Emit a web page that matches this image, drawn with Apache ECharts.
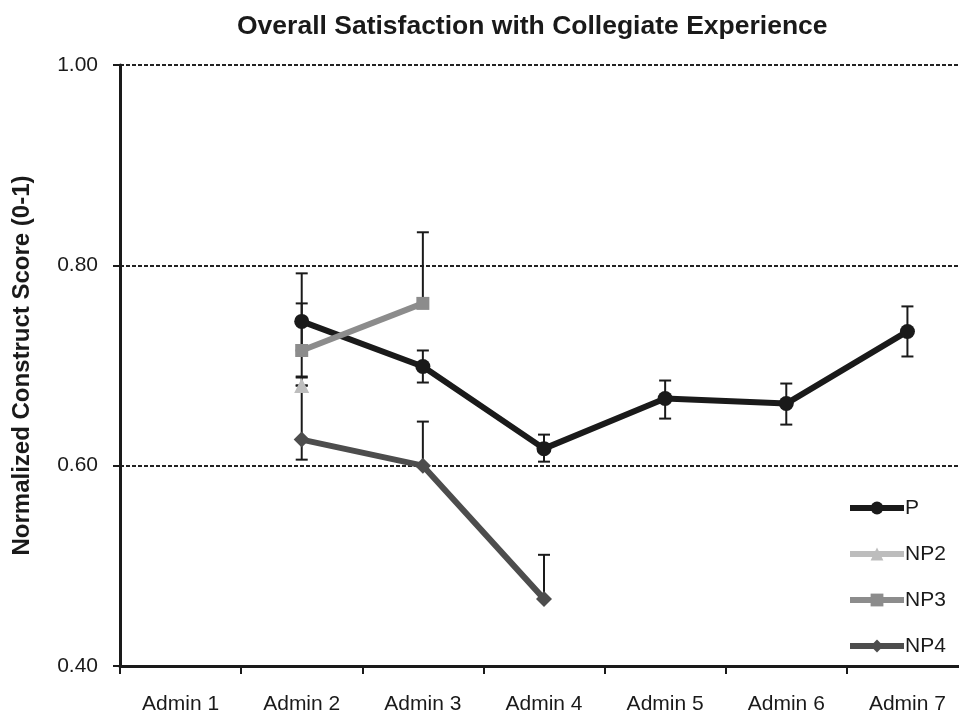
<!DOCTYPE html>
<html>
<head>
<meta charset="utf-8">
<script src="https://cdn.jsdelivr.net/npm/echarts@6/dist/echarts.min.js"></script>
<style>
  html, body { margin: 0; padding: 0; background: #fff; overflow: hidden; }
  /* plot runs a little past the right edge of the window, as in the source */
  #chart { width: 968px; height: 717px; }
</style>
</head>
<body>
<div id="chart"></div>
<script>
var chart = echarts.init(document.getElementById('chart'));

// categories
var admins = ['Admin 1', 'Admin 2', 'Admin 3', 'Admin 4', 'Admin 5', 'Admin 6', 'Admin 7'];
// y ticks
var yMin = 0.40, yMax = 1.00, yStep = 0.20;

// series values (null = no value)
var P   = [null, 0.744, 0.699, 0.617, 0.667, 0.662, 0.734];
var NP2 = [null, 0.680, null, null, null, null, null];
var NP3 = [null, 0.715, 0.762, null, null, null, null];
var NP4 = [null, 0.626, 0.600, 0.467, null, null, null];

// error bar ends (low / high)
var P_lo   = [null, 0.715, 0.683, 0.604, 0.647, 0.641, 0.709];
var P_hi   = [null, 0.792, 0.715, 0.631, 0.685, 0.682, 0.759];
var NP2_lo = [null, 0.680, null, null, null, null, null];
var NP2_hi = [null, 0.688, null, null, null, null, null];
var NP3_lo = [null, 0.689, 0.762, null, null, null, null];
var NP3_hi = [null, 0.762, 0.833, null, null, null, null];
var NP4_lo = [null, 0.606, 0.600, 0.467, null, null, null];
var NP4_hi = [null, 0.680, 0.644, 0.511, null, null, null];

var FONT = '"Liberation Sans", Arial, sans-serif';

// 误差线数据
function errData(lo, hi) {
    var out = [];
    for (var i = 0; i < lo.length; i++) {
        if (lo[i] != null && hi[i] != null) out.push([i, lo[i], hi[i]]);
    }
    return out;
}

function renderErr(params, api) {
    var x = api.value(0);
    var lo = api.coord([x, api.value(1)]);
    var hi = api.coord([x, api.value(2)]);
    var cap = 6;
    var st = { stroke: '#1a1a1a', lineWidth: 2 };
    return {
        type: 'group',
        children: [
            { type: 'line', shape: { x1: lo[0], y1: lo[1], x2: hi[0], y2: hi[1] }, style: st },
            { type: 'line', shape: { x1: hi[0] - cap, y1: hi[1], x2: hi[0] + cap, y2: hi[1] }, style: st },
            { type: 'line', shape: { x1: lo[0] - cap, y1: lo[1], x2: lo[0] + cap, y2: lo[1] }, style: st }
        ]
    };
}

function errSeries(lo, hi) {
    return {
        type: 'custom',
        renderItem: renderErr,
        data: errData(lo, hi),
        encode: { x: 0, y: [1, 2] },
        silent: true,
        z: 1
    };
}

function lineSeries(name, data, color, symbol, size) {
    return {
        name: name,
        type: 'line',
        data: data,
        symbol: symbol,
        symbolSize: size,
        showAllSymbol: true,
        connectNulls: false,
        lineStyle: { color: color, width: 6 },
        itemStyle: { color: color },
        z: 3
    };
}

var option = {
    animation: false,
    backgroundColor: '#fff',
    title: {
        text: 'Overall Satisfaction with Collegiate Experience',
        left: 232,
        top: 8,
        textStyle: { fontFamily: FONT, fontSize: 26.5, fontWeight: 'bold', color: '#1a1a1a' }
    },
    legend: {
        orient: 'vertical',
        left: 842,
        top: 492,
        itemWidth: 54,
        itemHeight: 16,
        itemGap: 24,
        lineStyle: { width: 6 },
        textStyle: { fontFamily: FONT, fontSize: 21, lineHeight: 22, color: '#1a1a1a', padding: [0, 0, 0, -4] },
        data: ['P', 'NP2', 'NP3', 'NP4']
    },
    grid: { left: 120, top: 65, right: 0, bottom: 51 },
    xAxis: {
        type: 'category',
        data: admins,
        boundaryGap: true,
        axisLine: { lineStyle: { color: '#1a1a1a', width: 3 } },
        axisTick: { show: true, length: 8, lineStyle: { color: '#1a1a1a', width: 2 } },
        axisLabel: { fontFamily: FONT, fontSize: 21, color: '#1a1a1a', margin: 28, interval: 0 }
    },
    yAxis: {
        type: 'value',
        min: yMin,
        max: yMax,
        interval: yStep,
        name: 'Normalized Construct Score (0-1)',
        nameLocation: 'middle',
        nameGap: 86,
        nameTextStyle: { fontFamily: FONT, fontSize: 24, fontWeight: 'bold', color: '#1a1a1a' },
        axisLine: { show: true, lineStyle: { color: '#1a1a1a', width: 3 } },
        axisTick: { show: true, length: 7, lineStyle: { color: '#1a1a1a', width: 2 } },
        axisLabel: {
            fontFamily: FONT, fontSize: 21, color: '#1a1a1a', margin: 22,
            formatter: function (v) { return v.toFixed(2); }
        },
        splitLine: { show: true, lineStyle: { color: '#222', width: 2, type: [4, 2] } }
    },
    series: [
        errSeries(P_lo, P_hi),
        errSeries(NP2_lo, NP2_hi),
        errSeries(NP3_lo, NP3_hi),
        errSeries(NP4_lo, NP4_hi),
        lineSeries('P', P, '#1a1a1a', 'circle', 15),
        lineSeries('NP2', NP2, '#bdbdbd', 'triangle', 15),
        lineSeries('NP3', NP3, '#8c8c8c', 'rect', 13),
        lineSeries('NP4', NP4, '#4d4d4d', 'diamond', 16)
    ]
};
chart.setOption(option);
</script>
</body>
</html>
